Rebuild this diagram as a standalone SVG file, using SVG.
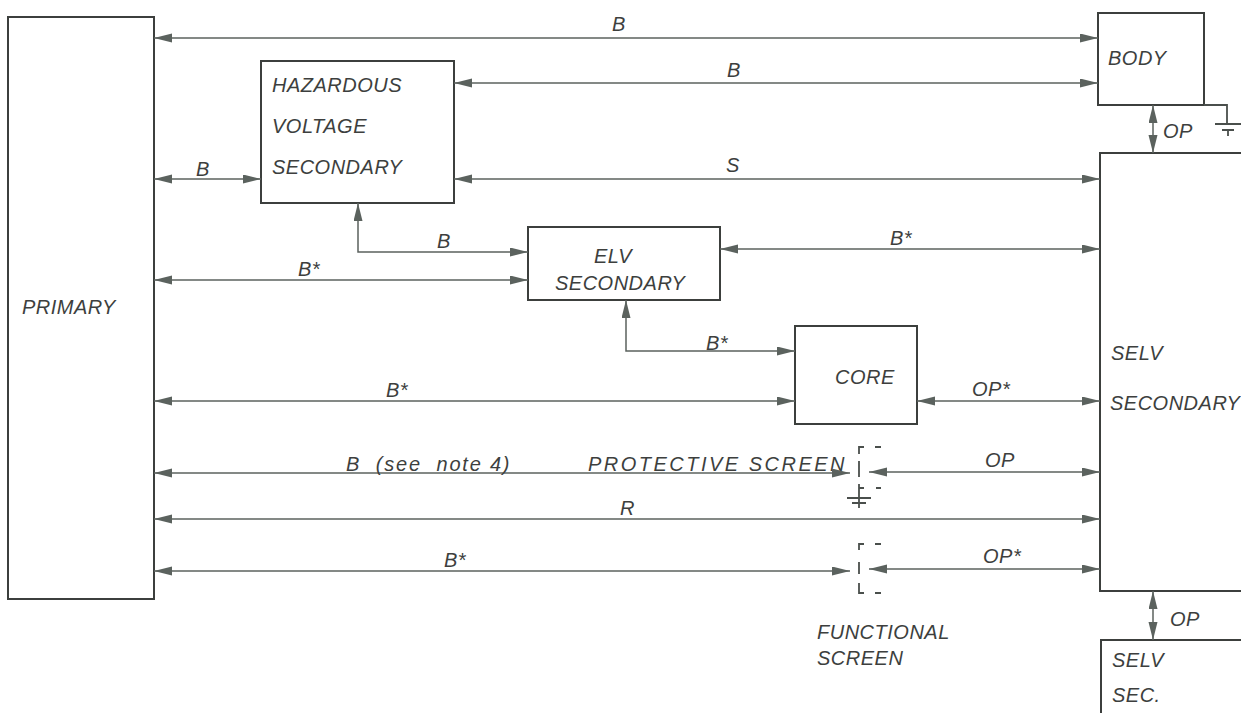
<svg xmlns="http://www.w3.org/2000/svg" width="1241" height="713" viewBox="0 0 1241 713">
<style>
.box{fill:#fff;stroke:#3c3f3d;stroke-width:2}
.ln{fill:none;stroke:#5b625e;stroke-width:1.5}
.ar{marker-start:url(#ah);marker-end:url(#ah)}
.sc{fill:none;stroke:#4a4f4c;stroke-width:1.8}
text{font-family:"Liberation Sans",Arial,sans-serif;font-style:italic;font-size:20px;fill:#3d3f3e;letter-spacing:0.5px}
</style>
<defs>
<marker id="ah" markerUnits="userSpaceOnUse" markerWidth="19" markerHeight="10" refX="18" refY="4.5" orient="auto-start-reverse">
<path d="M0,0 L18,4.5 L0,9 z" fill="#5b625e"/>
</marker>
</defs>
<rect width="1241" height="713" fill="#fff"/>
<g id="primary"><rect class="box" x="8" y="17" width="146" height="582"/><text x="22" y="314">PRIMARY</text></g>
<g id="body"><rect class="box" x="1098" y="13" width="106" height="92"/><text x="1108" y="65">BODY</text></g>
<g id="hazardous"><rect class="box" x="261" y="61" width="193" height="142"/><text x="272" y="92">HAZARDOUS</text><text x="272" y="133">VOLTAGE</text><text x="272" y="174">SECONDARY</text></g>
<g id="elv"><rect class="box" x="528" y="227" width="192" height="73"/><text x="594" y="263">ELV</text><text x="555" y="290">SECONDARY</text></g>
<g id="core"><rect class="box" x="795" y="326" width="122" height="98"/><text x="835" y="384">CORE</text></g>
<g id="selv"><rect class="box" x="1100" y="153" width="150" height="438"/><text x="1111" y="360">SELV</text><text x="1110" y="410">SECONDARY</text></g>
<g id="selv-sec"><rect class="box" x="1101" y="640" width="150" height="90"/><text x="1112" y="667">SELV</text><text x="1112" y="702">SEC.</text></g>
<g id="protective-screen">
<path class="sc" d="M859,454 V447 H864 M875,447 H881 M859,461 V477 M859,484 V503 M859,488 H864 M876,488 H881 M847,498 H871 M852,503 H866 M859,503 V508"/>
<text x="588" y="471" textLength="257" lengthAdjust="spacing">PROTECTIVE SCREEN</text>
</g>
<g id="functional-screen">
<path class="sc" d="M859,550 V544 H864 M875,544 H881 M859,562 V574 M859,583 V593 H864 M875,593 H881"/>
<text x="817" y="639">FUNCTIONAL</text><text x="817" y="665">SCREEN</text>
</g>
<g id="body-ground"><path class="sc" d="M1204,105 H1227 V124 M1215,124 H1241 M1222,130 H1234 M1228,130 V136"/></g>
<g id="connectors">
<path class="ln ar" d="M154,38 H1098"/>
<path class="ln ar" d="M454,83 H1098"/>
<path class="ln ar" d="M154,179 H261"/>
<path class="ln ar" d="M454,179 H1100"/>
<path class="ln ar" d="M358,203 V252 H528"/>
<path class="ln ar" d="M154,280 H528"/>
<path class="ln ar" d="M720,249 H1100"/>
<path class="ln ar" d="M626,300 V351 H795"/>
<path class="ln ar" d="M154,401 H795"/>
<path class="ln ar" d="M917,401 H1100"/>
<path class="ln ar" d="M154,473 H850"/>
<path class="ln ar" d="M869,472 H1100"/>
<path class="ln ar" d="M154,519 H1100"/>
<path class="ln ar" d="M154,571 H850"/>
<path class="ln ar" d="M869,569 H1100"/>
<path class="ln ar" d="M1153,105 V153"/>
<path class="ln ar" d="M1153,591 V640"/>
<text x="612" y="31">B</text>
<text x="727" y="77">B</text>
<text x="1163" y="138">OP</text>
<text x="196" y="176">B</text>
<text x="726" y="172">S</text>
<text x="437" y="248">B</text>
<text x="298" y="276">B*</text>
<text x="890" y="245">B*</text>
<text x="706" y="350">B*</text>
<text x="386" y="397">B*</text>
<text x="972" y="396">OP*</text>
<text x="346" y="471" xml:space="preserve" textLength="164" lengthAdjust="spacing">B  (see  note 4)</text>
<text x="985" y="467">OP</text>
<text x="620" y="515">R</text>
<text x="444" y="567">B*</text>
<text x="983" y="563">OP*</text>
<text x="1170" y="626">OP</text>
</g>
</svg>
